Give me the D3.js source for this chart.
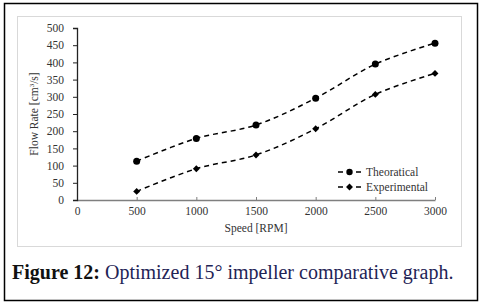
<!DOCTYPE html>
<html><head><meta charset="utf-8">
<script src="https://cdn.jsdelivr.net/npm/d3@7"></script>
<style>body{margin:0;background:#fff}svg{display:block}</style>
</head><body>
<svg id="c" width="484" height="306"></svg>
<script>
const speeds = [500, 1000, 1500, 2000, 2500, 3000];
const theoretical = [113, 179, 218, 296, 395, 456];
const experimental = [25, 91, 131, 207, 307, 368];
const xTicks = [0, 500, 1000, 1500, 2000, 2500, 3000];
const yTicks = [0, 50, 100, 150, 200, 250, 300, 350, 400, 450, 500];
const seriesNames = ["Theoratical", "Experimental"];

const svg = d3.select("#c");
const serif = "Liberation Serif, Times New Roman, serif";

svg.append("rect").attr("x",4.5).attr("y",3.5).attr("width",473).attr("height",297)
  .attr("fill","none").attr("stroke","#000").attr("stroke-width",1.5);
svg.append("rect").attr("x",17.5).attr("y",16.5).attr("width",444).attr("height",230)
  .attr("fill","#fff").attr("stroke","#d9d9d9").attr("stroke-width",1);

const x = d3.scaleLinear().domain([0,3000]).range([77,435]);
const y = d3.scaleLinear().domain([0,500]).range([200,28]);

// x axis
const gx = svg.append("g").attr("transform","translate(0,200)")
  .call(d3.axisBottom(x).tickValues(xTicks).tickFormat(d3.format("d")).tickSize(0).tickPadding(7));
gx.attr("font-family",serif);
gx.select(".domain").attr("stroke","#7f7f7f").attr("stroke-width",1.5);
gx.selectAll("text").style("font-family",serif).style("font-size","11.5px").attr("fill","#333");
gx.selectAll(".tick").append("line").attr("y1",-3).attr("y2",0).attr("stroke","#7f7f7f");

// y axis
const gy = svg.append("g").attr("transform","translate(77,0)")
  .call(d3.axisLeft(y).tickValues(yTicks).tickFormat(d3.format("d")).tickSize(4).tickPadding(9).tickSizeOuter(4));
gy.attr("font-family",serif);
gy.select(".domain").attr("stroke","#222").attr("stroke-width",1.3);
gy.selectAll(".tick line").attr("stroke","#222");
gy.selectAll("text").style("font-family",serif).style("font-size","11.5px").attr("fill","#333");

svg.append("text").attr("x",256).attr("y",232).attr("text-anchor","middle")
  .style("font-family",serif).style("font-size","11.5px").attr("fill","#333").text("Speed [RPM]");
const yt = svg.append("text").attr("transform","translate(38,114) rotate(-90)")
  .attr("text-anchor","middle").style("font-family",serif).style("font-size","11.5px").attr("fill","#333");
yt.append("tspan").text("Flow Rate [cm");
yt.append("tspan").style("font-size","7px").attr("dy",-4).text("3");
yt.append("tspan").attr("dy",4).text("/s]");

const line = d3.line().x(d=>x(d[0])).y(d=>y(d[1])).curve(d3.curveCatmullRom.alpha(0.5));
const data = [theoretical, experimental].map(s => speeds.map((v,i)=>[v,s[i]]));
const diamond = d3.symbol().type(d3.symbolSquare).size(24);

data.forEach((pts,k)=>{
  svg.append("path").attr("d",line(pts)).attr("fill","none").attr("stroke","#000")
    .attr("stroke-width",1.5).attr("stroke-dasharray","5,4");
  pts.forEach(p=>{
    if(k===0) svg.append("circle").attr("cx",x(p[0])).attr("cy",y(p[1])).attr("r",3.5).attr("fill","#000");
    else svg.append("path").attr("d",diamond()).attr("transform",`translate(${x(p[0])},${y(p[1])}) rotate(45)`).attr("fill","#000");
  });
});

// legend
seriesNames.forEach((n,k)=>{
  const ly = 172 + k*15;
  svg.append("line").attr("x1",338).attr("x2",362).attr("y1",ly).attr("y2",ly)
    .attr("stroke","#000").attr("stroke-width",1.5).attr("stroke-dasharray","5,4");
  if(k===0) svg.append("circle").attr("cx",349.5).attr("cy",ly).attr("r",3.2).attr("fill","#000");
  else svg.append("path").attr("d",diamond()).attr("transform",`translate(349.5,${ly}) rotate(45)`).attr("fill","#000");
  svg.append("text").attr("x",366).attr("y",ly+4).style("font-family",serif).style("font-size","11.5px")
    .attr("fill","#333").text(n);
});

// caption
const cap = svg.append("text").attr("x",12).attr("y",279).style("font-family",serif).style("font-size","20px");
cap.append("tspan").attr("font-weight","bold").attr("fill","#111").text("Figure 12:");
cap.append("tspan").attr("fill","#1f2456").text(" Optimized 15° impeller comparative graph.");
</script>
</body></html>
